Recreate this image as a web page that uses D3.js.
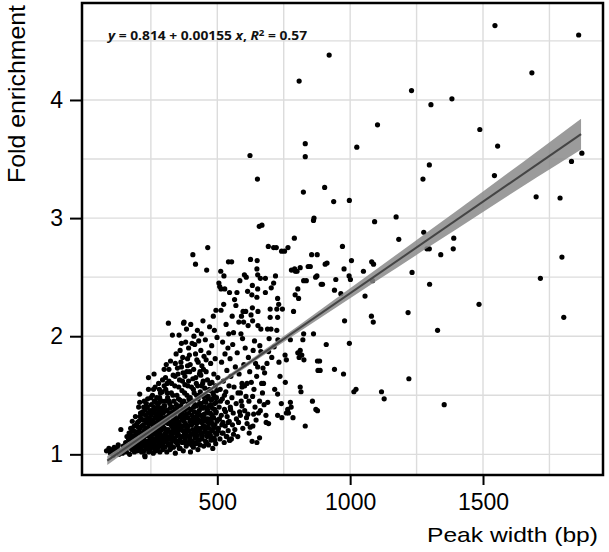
<!DOCTYPE html>
<html lang="en">
  <head>
    <meta charset="UTF-8" />
    <title>Fold enrichment vs peak width</title>
    <script src="https://d3js.org/d3.v7.min.js"></script>
    <style>
      body {
        margin: 0;
        background: white;
      }
      .grid line {
        stroke: #dcdcdc;
        stroke-width: 1.4px;
      }
      .axis path {
        display: none;
      }
      .axis line {
        stroke: #000;
        stroke-width: 2px;
      }
      .axis text {
        font-family: "Liberation Sans", Arial, sans-serif;
        font-size: 23px;
        fill: #000;
      }
      .title {
        font-family: "Liberation Sans", Arial, sans-serif;
        font-size: 21px;
        fill: #000;
      }
    </style>
  </head>
  <body>
    <svg id="chart" width="609" height="552"></svg>
    <script>
      // [peak width (bp), fold enrichment], left to right
      const clusterLeft = [
        [83,1.03],[92,1.05],[98,1.01],[105,1.04],[112,1.06],[118,1.02],[124,1.05],[130,1.0],[137,1.21],[140,1.03],[146,1.07],[143,1.01],[150,1.04],[108,0.99],[127,1.08],
        [155,1.1],[158,1.02],[162,1.06],[166,1.13],[170,1.0],[172,1.08],[176,1.16],[178,1.04],[182,1.11],[185,1.2],[188,1.02],[190,1.07],[193,1.14],[195,1.25],[197,1.09],[199,1.03],[168,1.18],[180,1.28],[192,1.32],[160,1.15],[174,1.22],[186,1.05],[196,1.17],
        [202,1.12],[204,1.4],[206,1.05],[208,1.51],[208,1.44],[210,1.22],[212,1.09],[214,1.3],[215,1.02],[217,1.18],[219,1.36],[220,1.07],[222,1.25],[224,1.14],[225,1.45],[227,0.99],[228,1.2],[230,1.33],[231,1.1],[233,1.05],[234,1.27],[236,1.16],[237,1.4],[239,1.08],[240,1.23],[241,1.55],[242,1.02],[244,1.31],[245,1.12],[246,1.19],[247,1.37],[248,1.04],[249,1.26],[241,1.65],[228,0.98],[216,1.34],[205,1.28],[213,1.16],[226,1.09],[238,1.47],
        [251,1.15],[252,1.42],[253,1.06],[254,1.29],[255,1.21],[256,1.5],[257,1.1],[258,1.35],[259,1.01],[260,1.24],[262,1.68],[262,1.17],[263,1.45],[264,1.08],[265,1.31],[266,1.57],[267,1.13],[268,1.38],[269,1.03],[270,1.26],[271,1.19],[272,1.48],[273,1.11],[274,1.33],[275,1.05],[276,1.22],[277,1.42],[278,1.15],[279,1.6],[280,1.28],[281,1.09],[282,1.36],[283,1.18],[284,1.02],[285,1.25],[286,1.52],[287,1.12],[288,1.39],[289,1.07],[290,1.3],[291,1.21],[292,1.45],[293,1.14],[294,1.63],[295,1.04],[296,1.27],[297,1.35],[298,1.16],[299,1.1],[300,1.72],[282,1.55]
      ];

      const clusterMid = [
        [301,1.22],[302,1.41],[303,1.06],[304,1.31],[305,1.18],[306,1.55],[307,1.11],[308,1.76],[309,1.27],[310,1.02],[311,1.37],[312,1.15],[313,1.48],[314,1.21],[315,1.08],[316,2.11],[317,1.33],[318,1.62],[319,1.13],[320,1.26],[321,1.43],[322,1.04],[323,1.19],[324,1.79],[325,1.35],[326,1.09],[327,1.52],[328,1.24],[329,1.16],[330,1.4],[331,2.01],[332,1.12],[333,1.29],[334,1.67],[335,1.06],[336,1.21],[337,1.45],[338,1.33],[339,1.14],[340,1.58],[341,1.25],[342,1.01],[343,1.38],[344,1.18],[345,1.85],[346,1.1],[347,1.3],[348,1.5],[349,1.22],[350,1.73],
        [351,1.08],[352,1.36],[353,1.17],[354,1.47],[355,1.27],[356,2.01],[357,1.12],[358,1.63],[359,1.32],[360,1.05],[361,1.21],[362,1.41],[363,1.78],[364,1.15],[365,1.94],[366,1.29],[367,1.54],[368,1.1],[369,1.37],[370,1.24],[371,1.69],[372,1.03],[373,2.11],[374,1.45],[375,2.12],[376,1.18],[377,1.33],[378,1.59],[379,1.13],[380,1.26],[381,1.95],[382,1.4],[383,1.07],[384,2.06],[385,1.22],[386,1.5],[387,1.16],[388,1.75],[389,1.31],[390,1.09],[391,1.43],[392,1.62],[393,1.2],[394,1.35],[395,1.84],[396,1.12],[397,1.28],[398,1.48],[399,1.02],[400,2.1],[360,1.88],[370,1.82],[385,1.7],[392,1.9],
        [401,1.38],[402,1.17],[403,1.57],[404,1.25],[405,1.94],[406,1.11],[407,1.45],[408,2.69],[409,1.31],[410,1.06],[411,1.72],[412,1.2],[413,1.52],[414,1.36],[415,1.93],[416,1.14],[417,1.27],[418,2.61],[419,1.65],[420,1.09],[421,1.41],[422,1.23],[423,1.8],[424,1.32],[425,1.16],[426,1.58],[427,1.04],[428,1.47],[429,1.29],[430,1.96],[431,1.12],[432,1.37],[433,1.68],[434,1.21],[435,1.08],[436,1.53],[437,1.33],[438,1.88],[439,1.18],[440,1.43],[441,1.27],[442,1.75],[443,1.13],[444,1.39],[445,1.6],[446,2.13],[447,1.24],[448,1.49],[449,1.07],[450,1.83],[425,2.05],[440,2.02],[412,2.0],
        [451,1.34],[452,1.19],[453,1.56],[454,1.28],[455,1.97],[456,1.11],[457,1.44],[458,1.7],[459,1.23],[460,2.56],[461,1.37],[462,1.15],[463,1.63],[464,2.75],[465,1.3],[466,1.49],[467,1.08],[468,1.86],[469,1.26],[470,1.41],[471,2.08],[472,1.18],[473,1.54],[474,1.35],[475,1.77],[476,1.12],[477,1.46],[478,1.27],[479,1.92],[480,1.61],[481,1.2],[482,1.39],[483,1.05],[484,1.52],[485,2.17],[486,1.31],[487,1.68],[488,1.14],[489,2.05],[490,1.43],[491,1.25],[492,1.81],[493,1.58],[494,1.09],[495,2.22],[496,1.36],[497,1.48],[498,1.17],[499,1.99],[500,1.29]
      ];

      const coreFill = [
        [183,1.15],[187,1.24],[191,1.09],[198,1.19],[203,1.23],[207,1.13],[211,1.35],[218,1.11],[221,1.29],[226,1.2],[229,1.38],[232,1.17],[235,1.06],[239,1.3],[243,1.21],[248,1.14],[251,1.33],[254,1.08],[257,1.18],[261,1.4],[264,1.24],[267,1.05],[271,1.34],[274,1.16],[278,1.28],[281,1.44],[284,1.12],[287,1.2],[291,1.07],[294,1.38],[297,1.23],[302,1.13],[305,1.45],[308,1.19],[312,1.31],[315,1.26],[318,1.09],[322,1.39],[325,1.17],[328,1.06],[332,1.23],[336,1.34],[339,1.28],[343,1.11],[346,1.42],[350,1.16],[353,1.26],[357,1.05],[361,1.32],[364,1.23],[368,1.44],[372,1.15],[375,1.28],[379,1.38],[382,1.19],[386,1.09],[389,1.24],[393,1.47],[397,1.14],[401,1.29],[404,1.08],[408,1.21],[411,1.4],[415,1.31],[418,1.17],[422,1.5],[426,1.27],[430,1.12],[433,1.43],[437,1.22],[441,1.58],[444,1.16],[448,1.33],[452,1.45],[455,1.21],[459,1.1],[463,1.38],[466,1.27],[470,1.55],[474,1.16],[478,1.3],[482,1.47],[486,1.22],[490,1.12],[494,1.35],[498,1.54],[503,1.2],[508,1.3],[512,1.45],[517,1.25],[522,1.18],[527,1.5],[531,1.36],[536,1.15],[541,1.27],[546,1.12],[550,1.38]
      ];

      const coreFill2 = [
        [172,1.12],[176,1.06],[179,1.2],[184,1.09],[189,1.16],[194,1.05],[200,1.27],[201,1.08],[206,1.19],[209,1.32],[213,1.05],[216,1.24],[219,1.13],[223,1.4],[224,1.03],[227,1.29],[231,1.22],[233,1.43],[236,1.11],[238,1.35],[242,1.18],[245,1.26],[247,1.09],[250,1.48],[253,1.2],[255,1.37],[258,1.13],[260,1.55],[263,1.27],[266,1.04],[268,1.44],[270,1.12],[272,1.21],[275,1.39],[277,1.3],[280,1.07],[283,1.48],[285,1.16],[288,1.33],[290,1.24],[293,1.53],[296,1.1],[299,1.41],[301,1.3],[304,1.12],[307,1.37],[309,1.2],[311,1.6],[314,1.29],[316,1.14],[319,1.45],[321,1.33],[324,1.05],[327,1.27],[330,1.18],[333,1.5],[335,1.36],[338,1.22],[341,1.66],[344,1.3],[347,1.1],[349,1.4],[352,1.19],[355,1.57],[358,1.25],[360,1.46],[363,1.11],[366,1.35],[369,1.62],[371,1.2],[374,1.3],[377,1.52],[380,1.1],[383,1.34],[386,1.23],[389,1.58],[391,1.39],[394,1.15],[396,1.7],[399,1.25],[402,1.45],[405,1.33],[407,1.17],[410,1.55],[413,1.28],[416,1.42],[419,1.1],[421,1.6],[424,1.35],[427,1.2],[429,1.5],[432,1.28],[435,1.7],[438,1.4],[442,1.15],[445,1.3],[447,1.62],[450,1.24],[453,1.4],[456,1.5],[458,1.3],[461,1.18],[464,1.47],[467,1.35],[469,1.22],[472,1.6],[475,1.42],[477,1.13],[480,1.33],[484,1.25],[487,1.5],[490,1.38],[493,1.18],[496,1.44],[499,1.28],
        [305,1.65],[318,1.72],[328,1.6],[342,1.77],[352,1.68],[365,1.74],[378,1.66],[388,1.81],[398,1.76],[408,1.64],[418,1.85],[428,1.78],[438,1.67],[448,1.72],[458,1.8],[300,1.58],[312,1.52]
      ];

      const clusterRight = [
        [502,1.65],[504,1.22],[506,2.45],[507,1.4],[509,2.42],[510,1.13],[511,1.55],[513,2.55],[514,2.22],[514,2.4],[515,1.33],[516,1.78],[518,1.18],[519,1.47],[520,1.95],[521,1.27],[523,1.62],[524,2.27],[525,2.51],[526,1.1],[527,1.38],[528,2.4],[529,1.85],[530,1.24],[532,1.53],[533,2.1],[534,1.15],[536,1.71],[537,1.32],[538,1.44],[540,1.9],[541,1.2],[542,2.63],[543,2.02],[544,1.58],[545,1.28],[546,2.37],[547,1.12],[548,1.81],[549,1.4],
        [551,1.66],[553,1.13],[554,2.63],[555,1.48],[556,2.17],[557,1.25],[558,1.93],[560,1.35],[561,1.17],[561,2.03],[563,1.57],[565,2.31],[566,1.21],[568,1.74],[570,2.26],[571,1.43],[572,1.3],[574,2.37],[575,1.86],[577,1.15],[578,1.52],[580,1.27],[581,2.12],[582,1.68],[584,1.36],[585,2.47],[587,1.52],[587,1.33],[589,2.02],[590,1.45],[591,2.17],[593,1.6],[593,1.57],[593,1.41],[595,1.98],[596,1.22],[597,2.21],[599,2.12],[600,1.76],
        [602,2.52],[603,1.58],[603,1.37],[605,1.9],[607,2.21],[608,1.49],[609,2.5],[610,1.31],[612,1.6],[612,1.26],[614,2.38],[615,1.34],[616,2.09],[617,1.82],[619,1.45],[620,1.18],[622,1.7],[624,1.23],[625,2.65],[627,2.18],[628,1.61],[630,2.35],[631,1.11],[632,2.43],[632,2.24],[633,2.13],[633,1.49],[634,1.24],[635,1.88],[637,1.34],[638,1.55],[640,1.96],[642,1.4],[644,1.77],[646,1.29],[648,1.66],[649,2.57],[649,2.33],[649,1.1],
        [650,2.64],[652,2.52],[652,2.4],[652,1.74],[653,2.21],[653,2.09],[655,1.35],[658,2.93],[659,1.45],[659,1.14],[660,1.92],[662,2.49],[662,1.37],[664,2.06],[664,1.87],[667,1.6],[668,2.94],[670,1.52],[672,1.73],[674,1.6],[676,1.42],[678,1.69],[681,2.49],[681,2.37],[683,1.33],[684,1.27],[687,1.77],[689,2.06],[690,1.44],[692,2.76],[693,1.87],[693,1.26],[695,1.98],[699,2.23],[699,2.16],
        [702,2.06],[703,2.41],[705,1.82],[712,2.45],[712,2.75],[714,1.91],[716,1.55],[719,2.51],[722,2.75],[724,2.23],[724,2.05],[727,2.32],[727,2.16],[727,1.51],[727,1.33],[728,1.97],[731,2.27],[732,1.78],[736,1.66],[741,1.43],[742,2.72],[743,1.31],[745,2.23],
        [753,2.72],[755,1.84],[756,1.61],[760,1.8],[760,1.35],[765,1.38],[766,2.75],[768,1.35],[775,1.97],[775,1.44],[778,1.4],[779,2.56],[785,1.31],[787,2.21],[790,2.83],[791,2.57],[793,2.35],[794,2.55],[800,2.55],
        [803,2.4],[806,2.32],[803,1.86],[808,1.82],[812,2.58],[812,1.88],[812,1.57],[815,1.53],[818,1.84],[822,1.97],[824,3.22],[825,2.47],[825,2.02],[826,1.8],[831,3.63],[831,3.52],[831,1.24],[835,2.47],[842,2.59],[850,2.59],[855,2.69],[858,1.45],[862,2.98],[862,2.02],[864,3.0],[870,2.5],[871,1.38],[875,2.51],[876,2.69],[877,1.79],[877,1.37],[879,1.71],[885,1.79],[887,1.71],[891,2.44],[896,2.44],[904,3.26],[906,2.61],[910,1.93],[913,2.62],
        [623,3.53],[651,3.33],[808,4.16]
      ];

      const sparseRight = [
        [921,4.38],[938,3.14],[941,2.39],[941,1.72],[946,2.48],[965,2.36],[971,2.76],[975,1.68],[977,2.57],[979,2.13],[996,2.51],[997,3.15],[997,1.94],[1001,2.48],[1005,2.64],[1014,1.53],[1022,1.55],[1025,3.6],[1050,2.55],[1056,2.34],[1080,2.17],[1081,2.63],[1084,2.47],[1087,2.12],[1088,2.61],[1092,2.97],[1103,3.79],[1118,1.53],[1128,1.47],[1173,3.01],[1183,2.82],[1218,2.2],[1221,1.64],[1231,4.08],[1233,2.54],[1274,3.33],[1277,2.88],[1289,2.74],[1298,3.45],[1298,2.74],[1299,2.44],[1304,3.96],[1329,2.05],[1341,2.69],[1354,1.42],[1383,4.01],[1388,2.74],[1390,2.83],[1485,2.27],[1488,3.75],[1543,3.36],[1545,4.63],[1555,3.61],[1684,4.23],[1700,3.18],[1716,2.49],[1790,3.17],[1797,2.67],[1804,2.16],[1833,3.48],[1860,4.55],[1872,3.55]
      ];

      // fitted line shown in the label, and its confidence band half-width
      const fitIntercept = 0.814;
      const fitSlope = 0.00155;
      const fitRange = [86, 1869];
      const bandX = [86, 300, 500, 700, 900, 1100, 1300, 1500, 1700, 1869];
      const bandHalf = [0.038, 0.024, 0.018, 0.022, 0.035, 0.05, 0.068, 0.087, 0.108, 0.13];

      const xTicks = [500, 1000, 1500];
      const xGrid = [250, 500, 750, 1000, 1250, 1500, 1750];
      const yTicks = [1, 2, 3, 4];
      const yGrid = [1, 1.5, 2, 2.5, 3, 3.5, 4, 4.5];

      const peaks = clusterLeft.concat(coreFill, coreFill2, clusterMid, clusterRight, sparseRight);

      const plotL = 82, plotR = 603, plotT = 3, plotB = 475;
      const svg = d3.select("#chart");

      const x = d3.scaleLinear().domain([-9.2, 1951.6]).range([plotL, plotR]);
      const y = d3.scaleLinear().domain([0.825, 4.821]).range([plotB, plotT]);

      // grid
      const grid = svg.append("g").attr("class", "grid");
      grid.selectAll(".gx").data(xGrid).enter().append("line")
        .attr("x1", (d) => x(d)).attr("x2", (d) => x(d))
        .attr("y1", plotT).attr("y2", plotB);
      grid.selectAll(".gy").data(yGrid).enter().append("line")
        .attr("x1", plotL).attr("x2", plotR)
        .attr("y1", (d) => y(d)).attr("y2", (d) => y(d));

      // points
      svg.append("g").selectAll("circle").data(peaks).enter().append("circle")
        .attr("cx", (d) => x(d[0]))
        .attr("cy", (d) => y(d[1]))
        .attr("r", 2.6)
        .attr("fill", "#000");

      // confidence band + line
      const fit = (w) => fitIntercept + fitSlope * w;
      const area = d3.area()
        .x((d, i) => x(bandX[i]))
        .y0((d, i) => y(fit(bandX[i]) - bandHalf[i]))
        .y1((d, i) => y(fit(bandX[i]) + bandHalf[i]))
        .curve(d3.curveMonotoneX);
      svg.append("path").datum(bandX).attr("d", area)
        .attr("fill", "#8a8a8a").attr("opacity", 0.85);
      svg.append("line")
        .attr("x1", x(fitRange[0])).attr("y1", y(fit(fitRange[0])))
        .attr("x2", x(fitRange[1])).attr("y2", y(fit(fitRange[1])))
        .attr("stroke", "#454545").attr("stroke-width", 2);

      // frame
      svg.append("rect")
        .attr("x", plotL).attr("y", plotT)
        .attr("width", plotR - plotL).attr("height", plotB - plotT)
        .attr("fill", "none").attr("stroke", "#000").attr("stroke-width", 2.5);

      // axes
      svg.append("g").attr("class", "axis")
        .attr("transform", `translate(0,${plotB})`)
        .call(d3.axisBottom(x).tickValues(xTicks).tickFormat(d3.format("d")).tickSize(10).tickPadding(9));
      svg.append("g").attr("class", "axis")
        .attr("transform", `translate(${plotL},0)`)
        .call(d3.axisLeft(y).tickValues(yTicks).tickFormat(d3.format("d")).tickSize(12).tickPadding(7));

      // titles
      svg.append("text").attr("class", "title")
        .attr("x", 598).attr("y", 542)
        .attr("text-anchor", "end")
        .attr("textLength", 171).attr("lengthAdjust", "spacingAndGlyphs")
        .text("Peak width (bp)");
      svg.append("text").attr("class", "title")
        .attr("transform", "translate(25,5) rotate(-90)")
        .attr("text-anchor", "end")
        .style("font-size", "24px")
        .attr("textLength", 178).attr("lengthAdjust", "spacingAndGlyphs")
        .text("Fold enrichment");

      // regression label
      const eq = svg.append("text")
        .attr("transform", "translate(108,40) scale(1.15,1)")
        .attr("font-family", "'Open Sans', 'Noto Sans', sans-serif")
        .attr("font-weight", 700)
        .attr("font-size", 12)
        .attr("fill", "#111");
      eq.append("tspan").attr("font-style", "italic").text("y");
      eq.append("tspan").text(" = 0.814 + 0.00155 ");
      eq.append("tspan").attr("font-style", "italic").text("x");
      eq.append("tspan").text(", ");
      eq.append("tspan").attr("font-style", "italic").text("R");
      eq.append("tspan").attr("font-size", 8.5).attr("dy", -4.5).text("2");
      eq.append("tspan").attr("dy", 4.5).text(" = 0.57");
    </script>
  </body>
</html>
